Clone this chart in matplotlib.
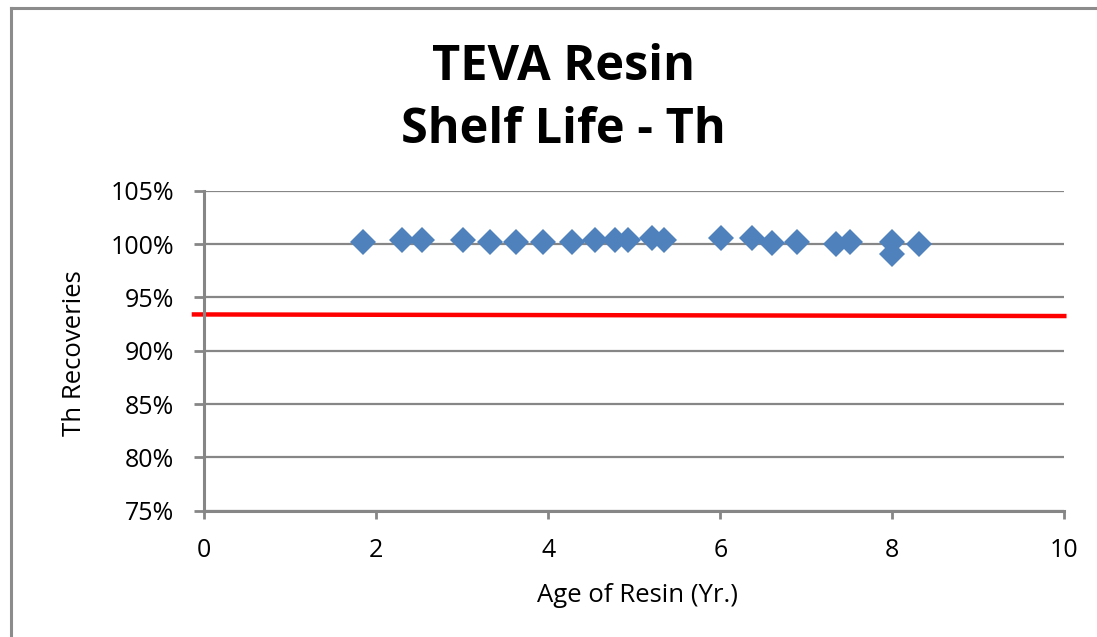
import matplotlib
matplotlib.use('Agg')
import matplotlib.pyplot as plt
from matplotlib.lines import Line2D
from matplotlib.ticker import FuncFormatter

# ==========================================
# Data
# ==========================================
age_yr = [1.85, 2.30, 2.53, 3.01, 3.32, 3.63, 3.94, 4.28, 4.54, 4.77, 4.93,
          5.21, 5.34, 6.01, 6.37, 6.60, 6.89, 7.35, 7.51, 8.00, 8.00, 8.31]
th_recovery = [100.16, 100.40, 100.40, 100.40, 100.15, 100.15, 100.15, 100.15,
               100.40, 100.40, 100.40, 100.60, 100.40, 100.60, 100.60, 100.07,
               100.15, 99.97, 100.15, 100.15, 99.10, 100.00]

# red acceptance line (endpoints)
limit_x = [-0.12, 10.0]
limit_y = [93.4, 93.25]

x_ticks = [0, 2, 4, 6, 8, 10]
y_ticks = [75, 80, 85, 90, 95, 100, 105]

title_lines = ['TEVA Resin', 'Shelf Life - Th']
x_label = 'Age of Resin (Yr.)'
y_label = 'Th Recoveries'

# ==========================================
# Style
# ==========================================
plt.rcParams.update({
    'font.family': ['Open Sans', 'DejaVu Sans'],
    'font.size': 18,
})
grid_gray = '#868686'
marker_blue = '#4F81BD'

fig = plt.figure(figsize=(10.97, 6.37), dpi=100)
ax = fig.add_axes([0.1862, 0.1983, 0.7840, 0.5023])

ax.set_xlim(0, 10)
ax.set_ylim(75, 105)
ax.set_xticks(x_ticks)
ax.set_yticks(y_ticks)
ax.yaxis.set_major_formatter(FuncFormatter(lambda v, p: f'{v:.0f}%'))

ax.grid(axis='y', color=grid_gray, linewidth=1.6, zorder=0)
ax.set_axisbelow(True)

for side in ['top', 'right']:
    ax.spines[side].set_visible(False)
for side in ['left', 'bottom']:
    ax.spines[side].set_color(grid_gray)
    ax.spines[side].set_linewidth(2.2)

ax.tick_params(axis='y', length=7.5, width=2.0, color=grid_gray, pad=14, labelsize=18)
ax.tick_params(axis='x', length=5.8, width=2.0, color=grid_gray, pad=14, labelsize=18)

# threshold line
ax.plot(limit_x, limit_y, color='#FF0000', linewidth=3.2, clip_on=False, zorder=2)

# data points
ax.plot(age_yr, th_recovery, linestyle='none', marker='D', markersize=13,
        color=marker_blue, markeredgewidth=0, zorder=3)

# titles / labels
fig.text(0.514, 1 - 80 / 637, title_lines[0], ha='center', va='baseline',
         fontsize=35, fontweight='bold')
fig.text(0.514, 1 - 142.7 / 637, title_lines[1], ha='center', va='baseline',
         fontsize=35, fontweight='bold')
fig.text(0.5807, 1 - 601.7 / 637, x_label, ha='center', va='baseline', fontsize=18.5)
fig.text(0.068, 0.446, y_label, ha='center', va='center', rotation=90, fontsize=18.5)

# chart-area border (left and top visible)
bx = 11 / 1097
by = 1 - 8 / 637
fig.add_artist(Line2D([bx, bx], [0, by], transform=fig.transFigure,
                      color='#8C8C8C', linewidth=2.2))
fig.add_artist(Line2D([bx, 1], [by, by], transform=fig.transFigure,
                      color='#8C8C8C', linewidth=2.2))

fig.savefig('out.png', dpi=100)
